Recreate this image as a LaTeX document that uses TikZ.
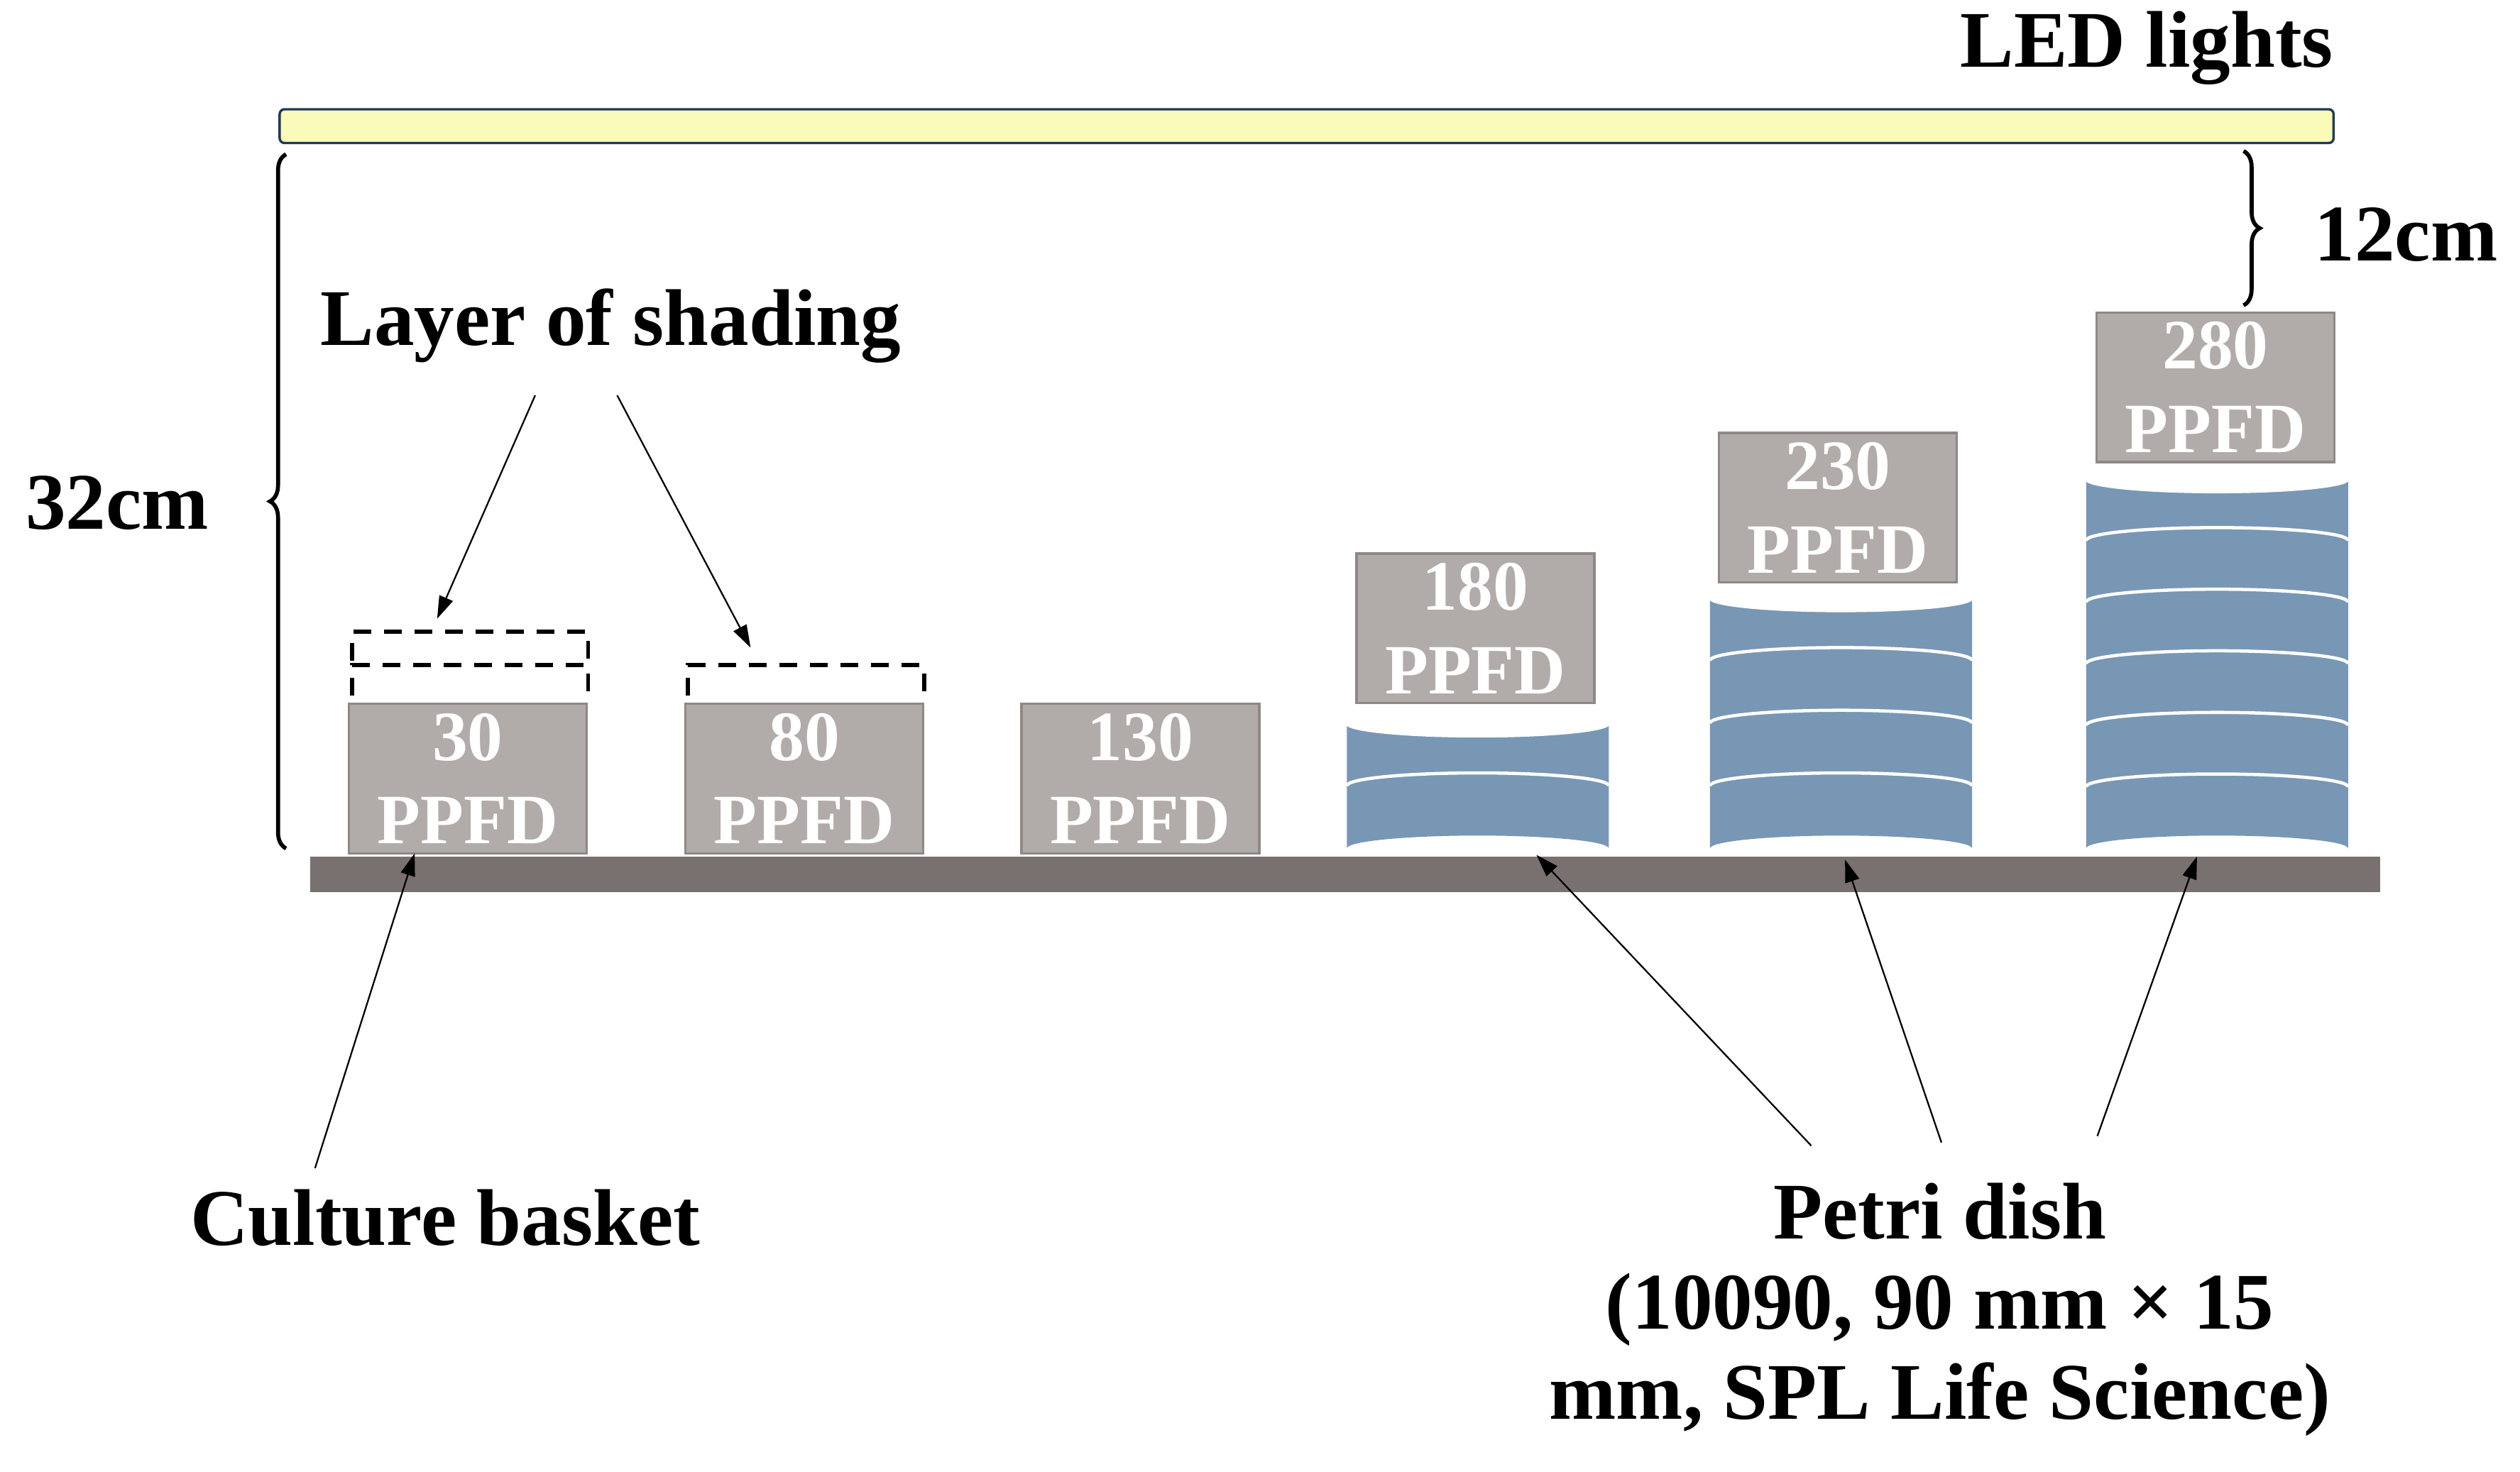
\documentclass[tikz,border=0pt]{standalone}
\usepackage{fontspec}
\setmainfont{Liberation Serif}
\usetikzlibrary{decorations.pathreplacing,arrows.meta}
\definecolor{boxg}{HTML}{B1ACA9}
\definecolor{boxe}{HTML}{8E8886}
\definecolor{shelf}{HTML}{787170}
\definecolor{dish}{HTML}{7897B5}
\definecolor{led}{HTML}{FAFAB9}
\definecolor{ledb}{HTML}{1F3A5A}
\tikzset{
 lbl/.style={font=\fontsize{50}{56}\selectfont\bfseries, inner sep=0pt},
 ppfd/.style={draw=boxe, line width=1.5pt, fill=boxg, minimum width=148pt, minimum height=93pt, inner sep=0pt, align=center, text=white, font=\fontsize{44}{52}\selectfont\bfseries},
 ptr/.style={-{Triangle[length=14pt,width=9pt]}, line width=1pt},
 dsh/.style={dashed, dash pattern=on 11pt off 8pt, line width=2.5pt},
 brc/.style={decorate, decoration={brace, amplitude=10pt}, line width=2.5pt}
}
\newcommand{\dishstack}[4]{% xl, xr, topy, nbands
  \pgfmathsetmacro{\xc}{(#1+#2)/2}\pgfmathsetmacro{\rx}{(#2-#1)/2}
  \fill[dish] (#1,#3) -- (#1,528) arc[start angle=180,end angle=360,x radius=\rx,y radius=8] -- (#2,#3) arc[start angle=0,end angle=180,x radius=\rx,y radius=8] -- cycle;
  \draw[white,line width=2pt] (\xc,#3) ellipse[x radius=\rx,y radius=8];
  \foreach \k in {1,...,#4}{
    \pgfmathsetmacro{\yy}{#3+(528-#3)*\k/#4}
    \ifnum\k<#4 \draw[white,line width=2pt] (#1,\yy) arc[start angle=180,end angle=360,x radius=\rx,y radius=8];\fi
  }
}
\begin{document}
\begin{tikzpicture}[x=1pt,y=-1pt]
\useasboundingbox (0,0) rectangle (1568,916);
% LED
\draw[ledb, fill=led, line width=1.5pt, rounded corners=3pt] (174,68) rectangle (1452,89);
\node[lbl, anchor=east] (led) at (1452,30) {LED lights};
% shelf
\fill[shelf] (193,533) rectangle (1481,555);
% dishes
\dishstack{838}{1001}{450}{2}
\dishstack{1064}{1227}{372}{4}
\dishstack{1298}{1461}{298}{6}
% boxes
\node[ppfd] (b30) at (291,484.5) {30\\PPFD};
\node[ppfd] (b80) at (500.5,484.5) {80\\PPFD};
\node[ppfd] (b130) at (709.5,484.5) {130\\PPFD};
\node[ppfd] (b180) at (918,391) {180\\PPFD};
\node[ppfd] (b230) at (1143.5,316) {230\\PPFD};
\node[ppfd] (b280) at (1378.5,241) {280\\PPFD};
% shading layers
\draw[dsh] (219,411) -- (219,393) -- (366,393) -- (366,411);
\draw[dsh] (219,433) -- (219,414) -- (366,414) -- (366,433);
\draw[dsh] (428,433) -- (428,414) -- (575,414) -- (575,433);
\coordinate (s1) at (272,385); \coordinate (s2) at (467,403);
\node[lbl] (shade) at (380,203) {Layer of shading};
\draw[ptr] (333,246) -- (s1);
\draw[ptr] (384,246) -- (s2);
% culture basket
\node[lbl] (cb) at (277,758) {Culture basket};
\coordinate (c1) at (258,531);
\draw[ptr] (196,727) -- (c1);
% petri dish
\node[lbl, align=center] (pd) at (1207,815) {Petri dish\\(10090, 90 mm × 15\\mm, SPL Life Science)};
\coordinate (p1) at (956,532); \coordinate (p2) at (1148,535); \coordinate (p3) at (1367,533);
\draw[ptr] (1127,713) -- (p1);
\draw[ptr] (1208,711) -- (p2);
\draw[ptr] (1305,707) -- (p3);
% braces
\draw[brc] (178,528) -- (178,96);
\node[lbl, anchor=east] (h32) at (130,313) {32cm};
\draw[brc] (1396,94) -- (1396,190);
\node[lbl, anchor=west] (h12) at (1440,146) {12cm};
\end{tikzpicture}
\end{document}
